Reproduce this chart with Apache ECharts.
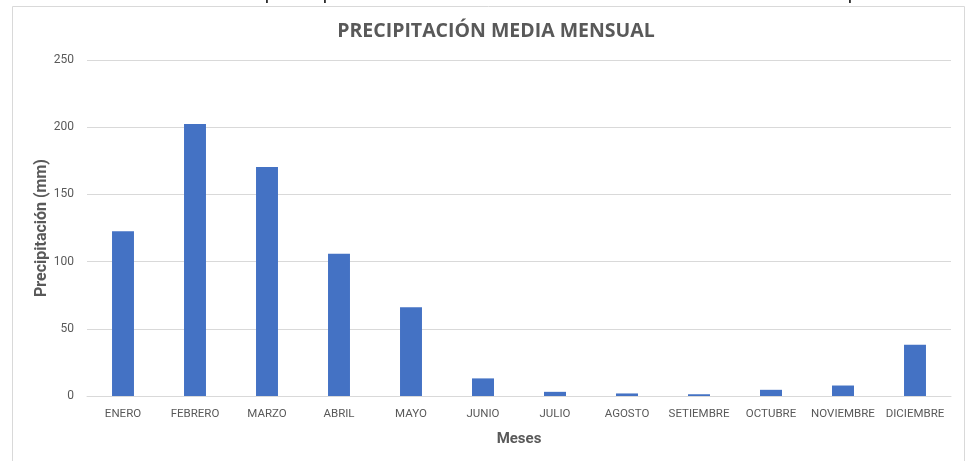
<!DOCTYPE html>
<html lang="es">
<head>
    <meta charset="UTF-8">
    <title>Precipitación media mensual</title>
    <script src="https://cdn.jsdelivr.net/npm/echarts@6/dist/echarts.min.js"></script>
    <style>
        html, body { margin: 0; padding: 0; background: #fff; }
        #chart { width: 968px; height: 461px; }
    </style>
</head>
<body>
    <div id="chart"></div>
    <script type="text/javascript">
        // datos
        var meses = ['ENERO', 'FEBRERO', 'MARZO', 'ABRIL', 'MAYO', 'JUNIO', 'JULIO',
            'AGOSTO', 'SETIEMBRE', 'OCTUBRE', 'NOVIEMBRE', 'DICIEMBRE'];
        var precipitacion = [122.5, 202.4, 170.3, 105.8, 66.0, 13.1, 3.1, 1.9, 1.3, 4.6, 7.8, 38.2];
        var yTicks = [0, 50, 100, 150, 200, 250];

        var font = 'Roboto, "Open Sans", sans-serif';
        var gris = '#595959';

        var myChart = echarts.init(document.getElementById('chart'));

        var option = {
            animation: false,
            title: {
                text: 'PRECIPITACIÓN MEDIA MENSUAL',
                left: 491,
                textAlign: 'center',
                top: 16,
                textStyle: { fontFamily: '"Open Sans", Roboto, sans-serif', fontSize: 19.5, fontWeight: 'bold', color: gris }
            },
            graphic: [
                // marco del gráfico
                {
                    type: 'rect',
                    shape: { x: 12.5, y: 6.5, width: 952, height: 470 },
                    style: { fill: null, stroke: '#d9d9d9', lineWidth: 1 },
                    silent: true
                },
                // restos de texto cortado arriba
                { type: 'text', left: 265, top: -13, style: { text: 'p', fontSize: 17, fill: '#000', fontFamily: font } },
                { type: 'text', left: 323, top: -13, style: { text: 'p', fontSize: 17, fill: '#000', fontFamily: font } },
                { type: 'text', left: 848, top: -13, style: { text: 'p', fontSize: 17, fill: '#000', fontFamily: font } }
            ],
            grid: {
                left: 87,
                right: 17,
                top: 60,
                bottom: 65,
                containLabel: false
            },
            xAxis: {
                type: 'category',
                data: meses,
                name: 'Meses',
                nameLocation: 'middle',
                nameGap: 36,
                nameMoveOverlap: false,
                nameTextStyle: { fontFamily: font, fontSize: 15, fontWeight: 'bold', color: gris },
                axisLine: { lineStyle: { color: '#d9d9d9', width: 1 } },
                axisTick: { show: false },
                axisLabel: {
                    interval: 0,
                    margin: 12,
                    fontFamily: font,
                    fontSize: 11.5,
                    color: gris
                }
            },
            yAxis: {
                type: 'value',
                min: yTicks[0],
                max: yTicks[yTicks.length - 1],
                interval: 50,
                name: 'Precipitación (mm)',
                nameLocation: 'middle',
                nameGap: 37,
                nameMoveOverlap: false,
                nameTextStyle: { fontFamily: font, fontSize: 16, fontWeight: 'bold', color: gris },
                axisLine: { show: false },
                axisTick: { show: false },
                axisLabel: {
                    margin: 13,
                    fontFamily: font,
                    fontSize: 12,
                    color: gris
                },
                splitLine: { lineStyle: { color: '#d9d9d9', width: 1 } }
            },
            series: [
                {
                    name: 'Precipitación',
                    type: 'bar',
                    data: precipitacion,
                    barWidth: '30.5%',
                    itemStyle: { color: '#4472c4' }
                }
            ]
        };

        myChart.setOption(option);
    </script>
</body>
</html>
